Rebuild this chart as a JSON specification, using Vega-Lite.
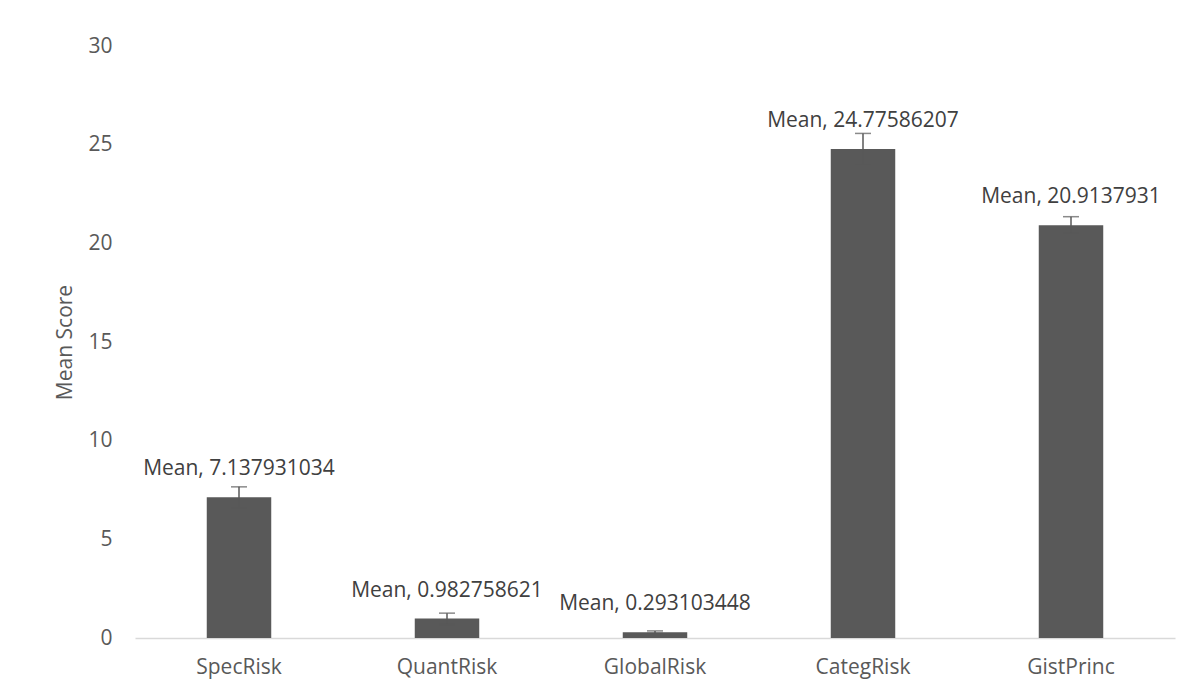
{
  "$schema": "https://vega.github.io/schema/vega-lite/v6.json",
  "autosize": "none",
  "width": 1040,
  "height": 592,
  "padding": {"left": 135, "top": 46, "right": 25, "bottom": 59},
  "background": "white",
  "config": {"view": {"stroke": null}, "font": "Open Sans"},
  "data": {"values": [
    {"cat": "SpecRisk", "mean": 7.137931034, "lo": 6.60, "hi": 7.66, "label": "Mean, 7.137931034"},
    {"cat": "QuantRisk", "mean": 0.982758621, "lo": 0.69, "hi": 1.26, "label": "Mean, 0.982758621"},
    {"cat": "GlobalRisk", "mean": 0.293103448, "lo": 0.23, "hi": 0.36, "label": "Mean, 0.293103448"},
    {"cat": "CategRisk", "mean": 24.77586207, "lo": 24.02, "hi": 25.57, "label": "Mean, 24.77586207"},
    {"cat": "GistPrinc", "mean": 20.9137931, "lo": 20.51, "hi": 21.35, "label": "Mean, 20.9137931"}
  ]},
  "encoding": {
    "x": {"field": "cat", "type": "nominal", "sort": null,
      "scale": {"paddingInner": 0.69, "paddingOuter": 0.345},
      "axis": {"title": null, "labelAngle": 0, "ticks": false, "labelPadding": 18,
        "labelFontSize": 21, "labelColor": "#595959", "domainColor": "#d9d9d9", "domainWidth": 1.5}}
  },
  "layer": [
    {
      "mark": {"type": "bar", "color": "#595959"},
      "encoding": {
        "y": {"field": "mean", "type": "quantitative",
          "scale": {"domain": [0, 30], "nice": false},
          "axis": {"title": "Mean Score", "values": [0, 5, 10, 15, 20, 25, 30], "grid": false, "domain": false, "ticks": false,
            "labelPadding": 23, "labelFontSize": 21, "labelColor": "#595959",
            "titleFontSize": 21, "titleColor": "#595959", "titleFontWeight": "normal",
            "titleX": -70, "titleY": 296, "titleAngle": -90, "titleAlign": "center", "titleBaseline": "middle"}}
      }
    },
    {
      "mark": {"type": "rule", "color": "#595959", "strokeWidth": 1.5},
      "encoding": {"y": {"field": "lo", "type": "quantitative"}, "y2": {"field": "hi"}}
    },
    {
      "mark": {"type": "tick", "color": "#595959", "size": 16, "thickness": 1.5},
      "encoding": {"y": {"field": "lo", "type": "quantitative"}}
    },
    {
      "mark": {"type": "tick", "color": "#595959", "size": 16, "thickness": 1.5},
      "encoding": {"y": {"field": "hi", "type": "quantitative"}}
    },
    {
      "mark": {"type": "text", "fontSize": 21, "color": "#404040", "baseline": "middle", "dy": -28},
      "encoding": {"y": {"field": "mean", "type": "quantitative"}, "text": {"field": "label"}}
    }
  ]
}
